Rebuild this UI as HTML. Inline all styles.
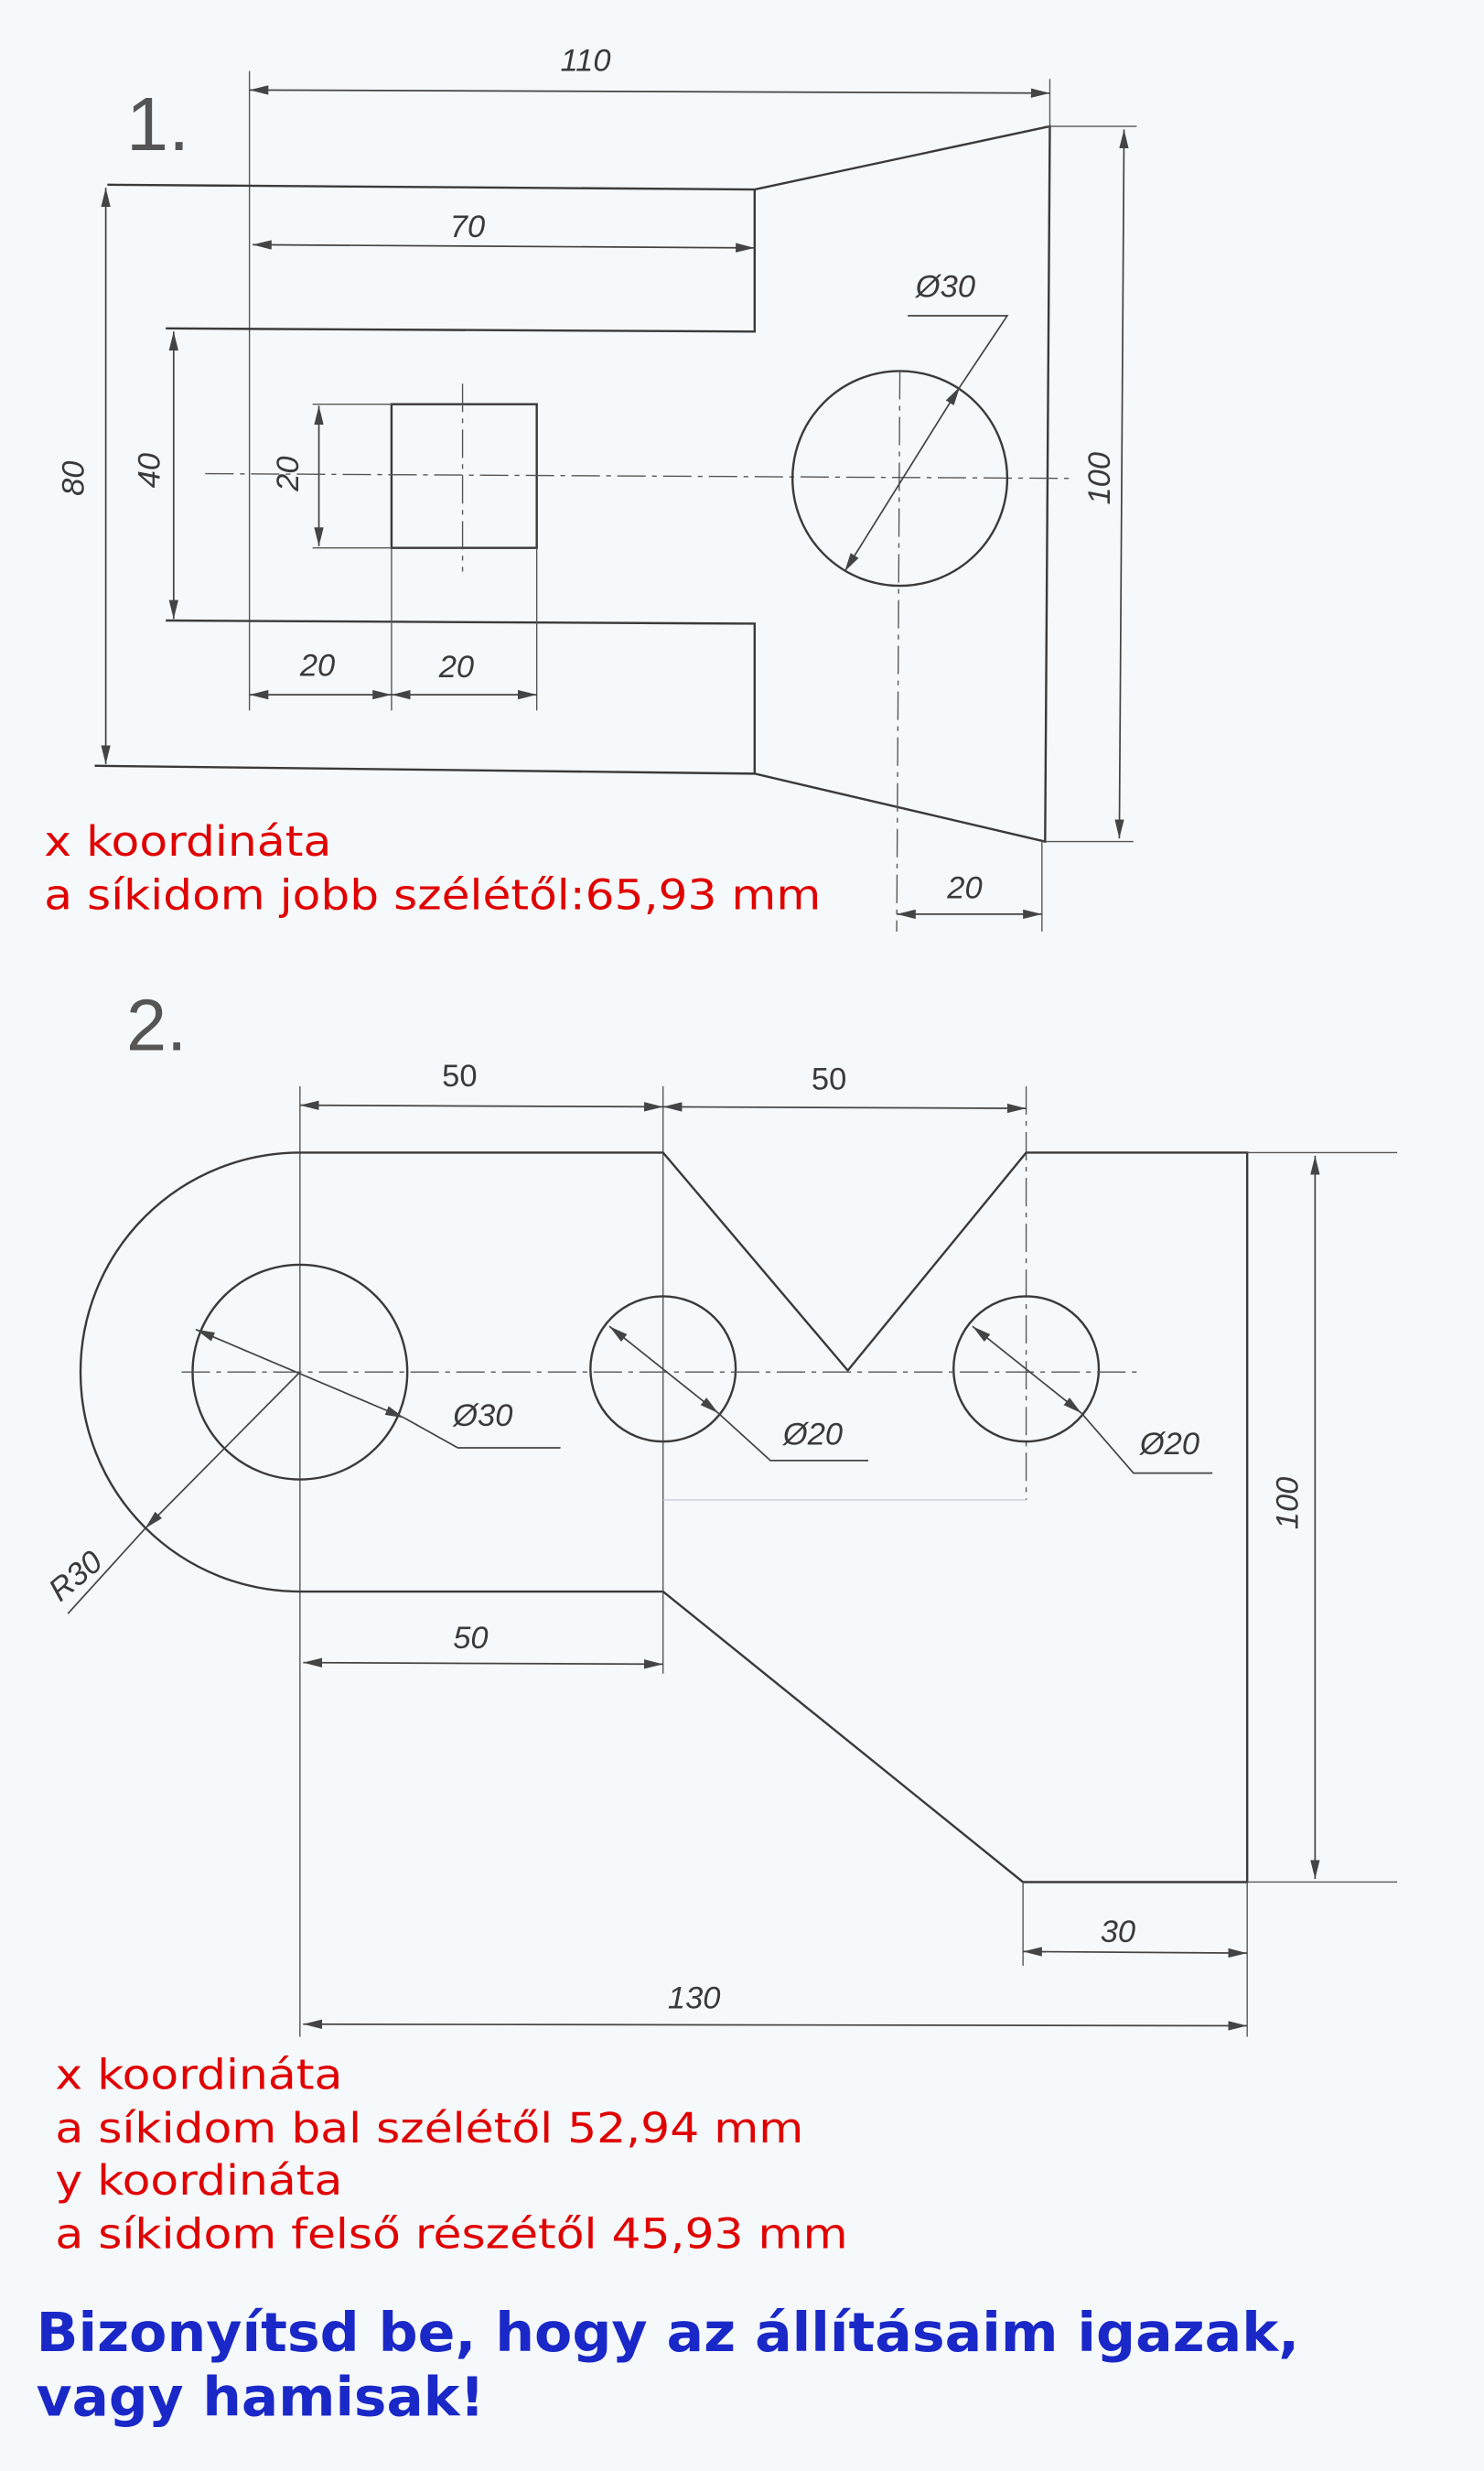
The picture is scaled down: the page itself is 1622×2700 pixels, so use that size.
<!DOCTYPE html>
<html><head><meta charset="utf-8"><style>
html,body{margin:0;padding:0;background:#f6f9fc;}
svg{display:block}
.l{stroke:#3a3a3a;stroke-width:1.4;fill:none}
.t{stroke:#555;stroke-width:0.8;fill:none}
.c{stroke:#555;stroke-width:0.8;fill:none;stroke-dasharray:18 4 3 4}
.d{stroke:#444;stroke-width:1;fill:none}
.h{font-family:"Liberation Sans",sans-serif;font-style:italic;fill:#3a3a3a;font-size:20px}
.r{font-family:"DejaVu Sans","Liberation Sans",sans-serif;fill:#e00000;font-size:26.5px}
.b{font-family:"DejaVu Sans","Liberation Sans",sans-serif;fill:#1a28c8;font-size:34px;font-weight:bold}
</style></head><body>
<svg width="1622" height="2700" viewBox="0 0 940 1565" preserveAspectRatio="none" xmlns="http://www.w3.org/2000/svg">
<defs>
<marker id="a" viewBox="0 0 12 6" refX="12" refY="3" markerWidth="12" markerHeight="6" orient="auto-start-reverse" markerUnits="userSpaceOnUse"><path d="M0,0 L12,3 L0,6 z" fill="#444"/></marker>
</defs>
<rect width="940" height="1565" fill="#f6f9fc"/>
<!-- PART 1 -->
<text x="80" y="95" style="font-family:'Liberation Sans',sans-serif;font-size:48px;fill:#555">1.</text>
<line class="t" x1="158" y1="45" x2="158" y2="450"/>
<line class="t" x1="665" y1="50" x2="665" y2="80"/>
<line class="d" x1="158" y1="57" x2="665" y2="59" marker-start="url(#a)" marker-end="url(#a)"/>
<text class="h" x="355" y="45">110</text>
<path class="l" d="M68,117 L478,120 L665,80 L662,533 L478,490 L60,485"/>
<path class="l" d="M478,120 L478,210 L105,208"/>
<path class="l" d="M105,393 L478,395 L478,490"/>
<line class="d" x1="160" y1="155" x2="478" y2="157" marker-start="url(#a)" marker-end="url(#a)"/>
<text class="h" x="285" y="150">70</text>
<line class="d" x1="67" y1="119" x2="67" y2="484" marker-start="url(#a)" marker-end="url(#a)"/>
<text class="h" transform="translate(53,303) rotate(-90)" text-anchor="middle">80</text>
<line class="d" x1="110" y1="210" x2="110" y2="392" marker-start="url(#a)" marker-end="url(#a)"/>
<text class="h" transform="translate(101,298) rotate(-90)" text-anchor="middle">40</text>
<rect class="l" x="248" y="256" width="92" height="91"/>
<line class="t" x1="198" y1="256" x2="248" y2="256"/>
<line class="t" x1="198" y1="347" x2="248" y2="347"/>
<line class="d" x1="202" y1="257" x2="202" y2="346" marker-start="url(#a)" marker-end="url(#a)"/>
<text class="h" transform="translate(189,300) rotate(-90)" text-anchor="middle">20</text>
<line class="c" x1="130" y1="300" x2="680" y2="303"/>
<line class="c" x1="293" y1="243" x2="293" y2="362"/>
<line class="t" x1="248" y1="347" x2="248" y2="450"/>
<line class="t" x1="340" y1="347" x2="340" y2="450"/>
<line class="d" x1="158" y1="440" x2="248" y2="440" marker-start="url(#a)" marker-end="url(#a)"/>
<line class="d" x1="248" y1="440" x2="340" y2="440" marker-start="url(#a)" marker-end="url(#a)"/>
<text class="h" x="190" y="428">20</text>
<text class="h" x="278" y="429">20</text>
<circle class="l" cx="570" cy="303" r="68"/>
<line class="c" x1="570" y1="235" x2="568" y2="590"/>
<line class="t" x1="660" y1="533" x2="660" y2="590"/>
<line class="d" x1="535" y1="362" x2="608" y2="245" marker-start="url(#a)" marker-end="url(#a)"/>
<path class="d" d="M608,245 L638,200 L575,200"/>
<text class="h" x="580" y="188">Ø30</text>
<line class="t" x1="662" y1="80" x2="720" y2="80"/>
<line class="t" x1="662" y1="533" x2="718" y2="533"/>
<line class="d" x1="712" y1="82" x2="709" y2="531" marker-start="url(#a)" marker-end="url(#a)"/>
<text class="h" transform="translate(703,303) rotate(-90)" text-anchor="middle">100</text>
<line class="d" x1="568" y1="579" x2="660" y2="579" marker-start="url(#a)" marker-end="url(#a)"/>
<text class="h" x="600" y="569">20</text>
<text class="r" x="28" y="542" textLength="182" lengthAdjust="spacingAndGlyphs">x koordináta</text>
<text class="r" x="28" y="576" textLength="492" lengthAdjust="spacingAndGlyphs">a síkidom jobb szélétől:65,93 mm</text>
<!-- PART 2 -->
<text x="80" y="665" style="font-family:'Liberation Sans',sans-serif;font-size:46px;fill:#555">2.</text>
<line class="t" x1="190" y1="688" x2="190" y2="1290"/>
<line class="t" x1="420" y1="688" x2="420" y2="1060"/>
<line class="c" x1="650" y1="688" x2="650" y2="950"/>
<line class="d" x1="190" y1="700" x2="420" y2="701" marker-start="url(#a)" marker-end="url(#a)"/>
<line class="d" x1="420" y1="701" x2="650" y2="702" marker-start="url(#a)" marker-end="url(#a)"/>
<text class="h" x="280" y="688" style="font-style:normal">50</text>
<text class="h" x="514" y="690" style="font-style:normal">50</text>
<path class="l" d="M190,730 L420,730 L537,868 L650,730 L790,730 L790,1192 L648,1192 L420,1008 L190,1008"/>
<path class="l" d="M190,730 A139,139 0 0 0 190,1008"/>
<line class="t" x1="420" y1="950" x2="650" y2="950" style="stroke:#ccd"/>
<line class="t" x1="790" y1="730" x2="885" y2="730"/>
<line class="t" x1="790" y1="1192" x2="885" y2="1192"/>
<line class="t" x1="648" y1="1192" x2="648" y2="1245"/>
<line class="t" x1="790" y1="1192" x2="790" y2="1290"/>
<circle class="l" cx="190" cy="869" r="68"/>
<circle class="l" cx="420" cy="867" r="46"/>
<circle class="l" cx="650" cy="867" r="46"/>
<line class="c" x1="115" y1="869" x2="720" y2="869"/>
<line class="d" x1="124" y1="842" x2="256" y2="898" marker-start="url(#a)" marker-end="url(#a)"/>
<path class="d" d="M256,898 L290,917 L355,917"/>
<text class="h" x="287" y="903">Ø30</text>
<line class="d" x1="386" y1="840" x2="455" y2="895" marker-start="url(#a)" marker-end="url(#a)"/>
<path class="d" d="M455,895 L488,925 L550,925"/>
<text class="h" x="496" y="915">Ø20</text>
<line class="d" x1="616" y1="840" x2="685" y2="895" marker-start="url(#a)" marker-end="url(#a)"/>
<path class="d" d="M685,895 L718,933 L768,933"/>
<text class="h" x="722" y="921">Ø20</text>
<line class="d" x1="190" y1="869" x2="92" y2="968" marker-end="url(#a)"/>
<line class="d" x1="92" y1="968" x2="43" y2="1022"/>
<text class="h" transform="translate(38,1015) rotate(-40)">R30</text>
<line class="d" x1="192" y1="1053" x2="420" y2="1054" marker-start="url(#a)" marker-end="url(#a)"/>
<text class="h" x="287" y="1044">50</text>
<line class="d" x1="833" y1="732" x2="833" y2="1190" marker-start="url(#a)" marker-end="url(#a)"/>
<text class="h" transform="translate(822,952) rotate(-90)" text-anchor="middle">100</text>
<line class="d" x1="648" y1="1236" x2="790" y2="1237" marker-start="url(#a)" marker-end="url(#a)"/>
<text class="h" x="697" y="1230">30</text>
<line class="d" x1="192" y1="1282" x2="790" y2="1283" marker-start="url(#a)" marker-end="url(#a)"/>
<text class="h" x="423" y="1272">130</text>
<text class="r" x="35" y="1323" textLength="182" lengthAdjust="spacingAndGlyphs">x koordináta</text>
<text class="r" x="35" y="1357" textLength="474" lengthAdjust="spacingAndGlyphs">a síkidom bal szélétől 52,94 mm</text>
<text class="r" x="35" y="1390" textLength="182" lengthAdjust="spacingAndGlyphs">y koordináta</text>
<text class="r" x="35" y="1424" textLength="502" lengthAdjust="spacingAndGlyphs">a síkidom felső részétől 45,93 mm</text>
<text class="b" x="23" y="1489" textLength="800" lengthAdjust="spacingAndGlyphs">Bizonyítsd be, hogy az állításaim igazak,</text>
<text class="b" x="23" y="1530" textLength="284" lengthAdjust="spacingAndGlyphs">vagy hamisak!</text>
</svg>
</body></html>
